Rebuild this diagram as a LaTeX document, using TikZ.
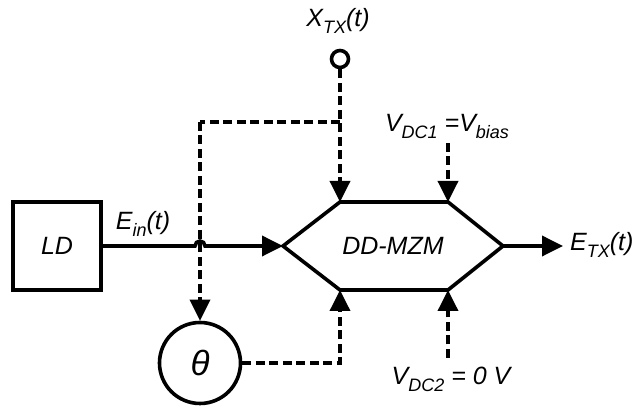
\documentclass[tikz,border=0pt]{standalone}
\usepackage{fontspec}
\setmainfont{Liberation Sans}
\usetikzlibrary{arrows.meta}
\newcommand\sbs[1]{\raisebox{-0.28em}{\fontsize{18}{18}\selectfont #1}}
\begin{document}
\begin{tikzpicture}[x=1pt,y=1pt,
  lw/.style={line width=3.6pt},
  dsh/.style={line width=3.6pt,dash pattern=on 9pt off 4.5pt},
  tip/.style={-{Triangle[length=21pt,width=20pt]}},
  lbl/.style={font=\fontsize{25}{29}\selectfont\itshape,inner sep=0pt},
  box/.style={draw,lw,minimum width=88pt,minimum height=88pt,inner sep=0pt},
  ring/.style={draw,lw,circle,inner sep=0pt}]
\useasboundingbox (0,0) rectangle (633,409);
% laser diode
\node[box,lbl] (ld) at (57,163) {LD};
% modulator hexagon
\coordinate (hl) at (283,163);
\coordinate (htl) at (340,207);
\coordinate (htr) at (448,207);
\coordinate (hr) at (503,163);
\coordinate (hbr) at (448,119);
\coordinate (hbl) at (340,119);
\draw[lw,line join=miter] (hl) -- (htl) -- (htr) -- (hr) -- (hbr) -- (hbl) -- cycle;
\node[lbl] (mzm) at (393,163) {DD-MZM};
% theta phase shifter
\node[ring,minimum size=81pt,font=\fontsize{35}{35}\selectfont\itshape] (th) at (200,46) {θ};
% input terminal
\node[ring,minimum size=17pt] (xin) at (340,350) {};
\node[lbl] (xl) at (338,388) {X\sbs{TX}(t)};
% labels
\node[lbl] (ein) at (143,185) {E\sbs{in}(t)};
\node[lbl,anchor=west] (etx) at (570,164) {E\sbs{TX}(t)};
\node[lbl] (v1) at (447,283) {V\sbs{DC1} =V\sbs{bias}};
\node[lbl] (v2) at (451,30) {V\sbs{DC2} = 0 V};
\coordinate (v1s) at (448,266);
\coordinate (v2s) at (448,51);
\coordinate (jn) at (340,287);
\coordinate (jl) at (200,287);
\coordinate (eo) at (563,163);
% optical path with hop
\draw[lw,tip] (ld.east) -- (195,163) arc (180:0:5) -- (hl);
\draw[lw,tip] (hr) -- (eo);
% electrical (dashed) paths
\draw[dsh,tip] (xin.south) -- (htl);
\draw[dsh] (jn) -- (jl);
\draw[dsh,tip] (jl) -- (th.north);
\draw[dsh,tip] (th.east) -| (hbl);
\draw[dsh,tip] (v1s) -- (htr);
\draw[dsh,tip] (v2s) -- (hbr);
\end{tikzpicture}
\end{document}
